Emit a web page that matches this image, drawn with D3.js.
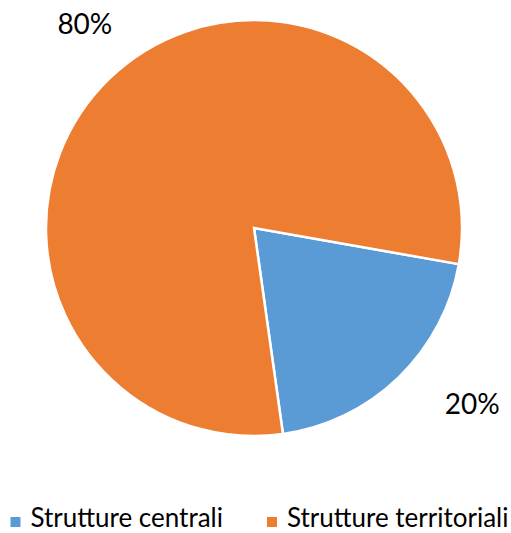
<!DOCTYPE html>
<html>
<head>
<meta charset="utf-8">
<script src="https://cdn.jsdelivr.net/npm/d3@7"></script>
<style>
  body { margin: 0; background: #fff; }
  text { font-family: Lato, "Open Sans", sans-serif; fill: #000; }
</style>
</head>
<body>
<div id="chart"></div>
<script>
// data
const categories = ["Strutture centrali", "Strutture territoriali"];
const values = [20, 80];
const colors = ["#5B9BD5", "#ED7D31"];

var width = 511, height = 533;
var cx = 254, cy = 228, radius = 208;

var svg = d3.select("#chart")
  .append("svg")
    .attr("width", width)
    .attr("height", height);

// first slice rotated ~100deg like the original
var pie = d3.pie()
  .sort(null)
  .startAngle(100 * Math.PI / 180)
  .endAngle(100 * Math.PI / 180 + 2 * Math.PI);

var arcs = pie(values);

var arc = d3.arc().innerRadius(0).outerRadius(radius);

var g = svg.append("g")
  .attr("transform", "translate(" + cx + "," + cy + ")");

g.selectAll("path")
  .data(arcs)
  .enter()
  .append("path")
    .attr("d", arc)
    .attr("fill", function(d, i) { return colors[i]; })
    .attr("stroke", "#fff")
    .attr("stroke-width", 2.5)
    .attr("stroke-linejoin", "miter");

// labels outside the slices (index 0 = blue, 1 = orange)
var total = d3.sum(values);
var labelArc = d3.arc().innerRadius(268).outerRadius(268);
var nudge = [[32, -18], [17, -12]];

g.selectAll("text.lbl")
  .data(arcs)
  .enter()
  .append("text")
    .attr("class", "lbl")
    .attr("x", function(d, i) { return labelArc.centroid(d)[0] + nudge[i][0]; })
    .attr("y", function(d, i) { return labelArc.centroid(d)[1] + nudge[i][1]; })
    .attr("text-anchor", "middle")
    .attr("dominant-baseline", "central")
    .style("font-size", "28px")
    .text(function(d) { return Math.round(d.data / total * 100) + "%"; });

// legend
var legend = svg.append("g");
var items = legend.selectAll("g")
  .data(categories)
  .enter()
  .append("g");

items.append("rect")
  .attr("width", 10)
  .attr("height", 10)
  .attr("y", -10)
  .attr("fill", function(d, i) { return colors[i]; });

items.append("text")
  .attr("x", 20)
  .attr("y", 0)
  .style("font-size", "26px")
  .text(function(d) { return d; });

var gap = 44;
var xpos = 0;
items.each(function() {
  d3.select(this).attr("transform", "translate(" + xpos + ",0)");
  xpos += this.getBBox().width + gap;
});
var legendW = xpos - gap;
legend.attr("transform", "translate(" + ((width - legendW) / 2 + 4) + ",527)");
</script>
</body>
</html>
